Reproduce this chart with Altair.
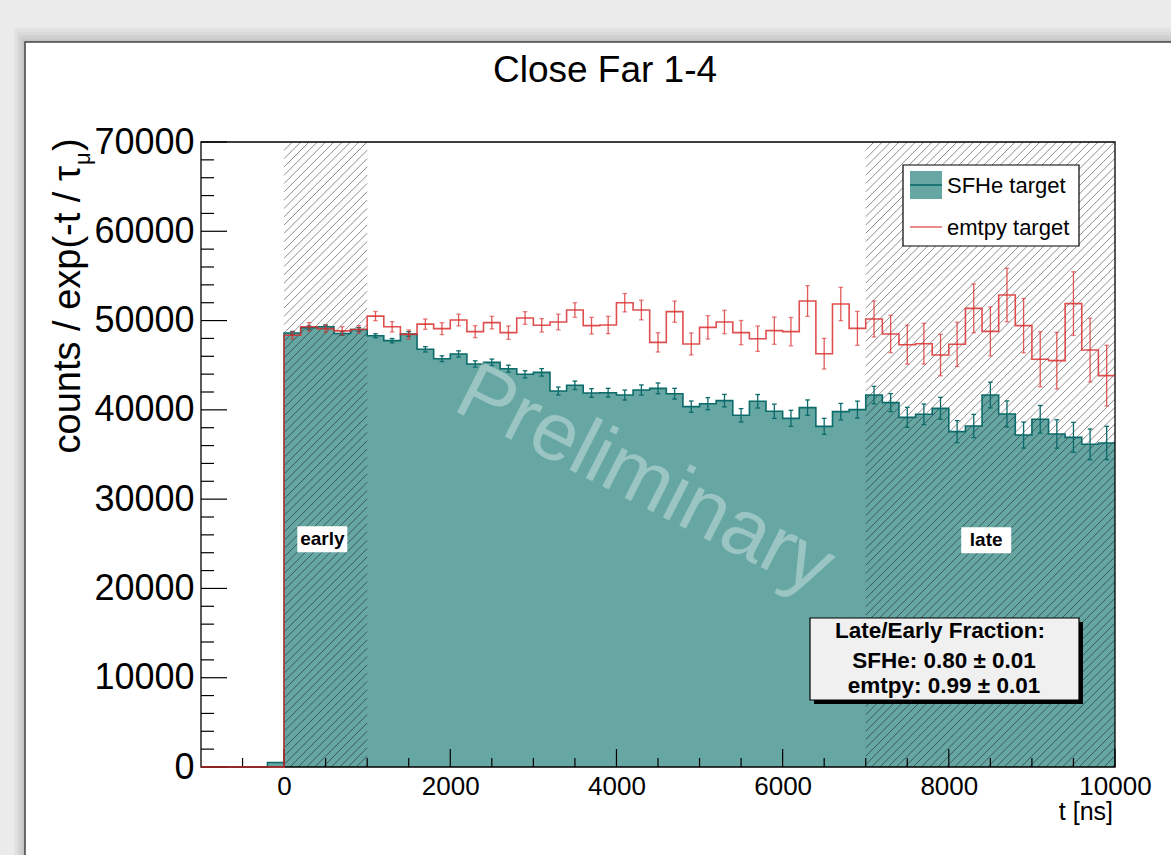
import altair as alt
import numpy as np
import pandas as pd

FONT = "Liberation Sans"

# ---- histogram data: 200 ns bins, lower edges from -1000 ns to 9800 ns ----
bin_lo = list(range(-1000, 10000, 200))
BIN_W = 200

sfhe_counts = [0, 0, 0, 0, 500,
               48600, 49200, 49300, 48550, 49000, 48300, 47750, 48500, 46780, 45730,
               46260, 45140, 45320, 44610, 43980, 44200, 42110, 42750, 41890, 41920,
               41660, 42220, 42410, 41810, 40360, 40690, 41030, 39390, 40960, 39840,
               39050, 40250, 38150, 39800, 40030, 41660, 40810, 39160, 39500, 40170,
               37560, 38190, 41660, 39540, 37180, 38940, 37300, 36920, 36140, 36290]
sfhe_err = [0, 0, 0, 0, 0,
            190, 200, 200, 200, 210, 220, 240, 260, 300, 320,
            350, 350, 370, 390, 400, 420, 440, 470, 480, 490,
            560, 570, 600, 600, 630, 680, 700, 750, 760, 800,
            900, 860, 900, 920, 950, 970, 1010, 1120, 1150, 1230,
            1230, 1300, 1440, 1460, 1460, 1550, 1590, 1680, 1720, 1870]

empty_counts = [0, 0, 0, 0, 0,
                48350, 49300, 49100, 48850, 49000, 50500, 49300, 48450, 49600, 49100,
                50060, 48760, 49770, 48650, 50290, 49470, 49840, 51180, 49430, 49500,
                52000, 51180, 47560, 51000, 47380, 49240, 49840, 48650, 47970, 48870,
                48760, 52190, 46290, 51860, 49130, 50180, 48500, 47300, 47410, 46140,
                47340, 51370, 48790, 52860, 49430, 45660, 45510, 51900, 46700, 43830]
empty_err = [0, 0, 0, 0, 0,
             410, 470, 410, 470, 430, 520, 580, 500, 580, 670,
             650, 670, 710, 750, 710, 750, 880, 820, 930, 970,
             1030, 1100, 1080, 1190, 1230, 1310, 1310, 1360, 1420, 1530,
             1590, 1720, 1720, 1870, 1900, 2020, 2090, 2180, 2280, 2330,
             2480, 2730, 2740, 2990, 3040, 3080, 3170, 3570, 3570, 3400]

early_window = [0, 1000]
late_window = [7000, 10000]

x_label_values = [0, 2000, 4000, 6000, 8000, 10000]
y_label_values = [0, 10000, 20000, 30000, 40000, 50000, 60000, 70000]
x_major_ticks = [0, 2000, 4000, 6000, 8000, 10000]
x_minor_ticks = [t for t in range(-500, 10000, 500) if t not in x_major_ticks]
y_major_ticks = y_label_values
y_minor_ticks = [t for t in range(2000, 70000, 2000) if t % 10000]

X_MIN, X_MAX = -1000, 10000
Y_MIN, Y_MAX = 0, 70000

# ---- layout ----
W, H = 914, 625
PAD = {"left": 201, "top": 142, "right": 56, "bottom": 88}

TEAL_FILL = "#66a6a3"
TEAL_LINE = "#0b6a6a"
RED = "#d93030"

xs = alt.Scale(domain=[X_MIN, X_MAX], nice=False, zero=False)
ys = alt.Scale(domain=[Y_MIN, Y_MAX], nice=False, zero=False)
x_axis = alt.Axis(values=x_label_values, format="d", labelFlush=False, ticks=False,
                  domain=False, grid=False, labelFontSize=26, labelPadding=6,
                  labelFont=FONT, labelColor="black", title=None, zindex=2)
y_axis = alt.Axis(values=y_label_values, format="d", ticks=False, domain=False,
                  grid=False, labelFontSize=36, labelPadding=7, labelFont=FONT,
                  labelColor="black", title=None, zindex=2)


def X(f):
    return alt.X(f"{f}:Q", scale=xs, axis=x_axis)


def Y(f):
    return alt.Y(f"{f}:Q", scale=ys, axis=y_axis)


one = pd.DataFrame({"k": [0]})


def px_rect(x, y, x2, y2, **kw):
    return alt.Chart(one).mark_rect(**kw).encode(
        x=alt.value(x), x2=alt.value(x2), y=alt.value(y), y2=alt.value(y2))


def px_rule(x, y, x2, y2, **kw):
    return alt.Chart(one).mark_rule(**kw).encode(
        x=alt.value(x), x2=alt.value(x2), y=alt.value(y), y2=alt.value(y2))


def px_text(x, y, text, **kw):
    opts = dict(font=FONT, color="black")
    opts.update(kw)
    return alt.Chart(one).mark_text(text=text, **opts).encode(
        x=alt.value(x), y=alt.value(y))


# ---- tables ----
hist = pd.DataFrame({
    "lo": bin_lo,
    "mid": [b + BIN_W / 2 for b in bin_lo],
    "sfhe": sfhe_counts, "sfhe_err": sfhe_err,
    "empty": empty_counts, "empty_err": empty_err,
})

steps = pd.DataFrame({
    "t": bin_lo + [X_MAX],
    "sfhe": sfhe_counts + [sfhe_counts[-1]],
    "empty": empty_counts + [empty_counts[-1]],
})
steps["zero"] = 0

CAP_NS = 28


def err_table(val, err):
    d = hist[hist[err] > 0].copy()
    d["lo_v"] = d[val] - d[err]
    d["hi_v"] = d[val] + d[err]
    d["c1"] = d["mid"] - CAP_NS
    d["c2"] = d["mid"] + CAP_NS
    return d


sfhe_e = err_table("sfhe", "sfhe_err")
empty_e = err_table("empty", "empty_err")

# diagonal hatching of the early and late windows (45 degrees on screen)
px_per_ns = W / (X_MAX - X_MIN)
px_per_cnt = H / (Y_MAX - Y_MIN)
slope = px_per_ns / px_per_cnt
step_ns = 8.3 / px_per_ns
span = Y_MAX / slope
hatch_rows = []
for a, b in (early_window, late_window):
    for x0 in np.arange(a - span, b, step_ns):
        s = max(a, x0)
        e = min(b, x0 + span)
        if e - s < 1e-6:
            continue
        hatch_rows.append({"x1": s, "x2": e, "y1": slope * (s - x0), "y2": slope * (e - x0)})
hatch = pd.DataFrame(hatch_rows)

# window labels
lab = pd.DataFrame({
    "name": ["early", "late"],
    "cx": [sum(early_window) / 2 - 40, sum(late_window) / 2 - 50],
    "cy": [25500, 25400],
})
lab["bx1"] = lab["cx"] - 25 / px_per_ns
lab["bx2"] = lab["cx"] + 25 / px_per_ns
lab["by1"] = lab["cy"] - 13 / px_per_cnt
lab["by2"] = lab["cy"] + 13 / px_per_cnt

ticks_x = pd.DataFrame({"t": x_major_ticks + x_minor_ticks,
                        "len": [18] * len(x_major_ticks) + [9] * len(x_minor_ticks)})
ticks_y = pd.DataFrame({"t": y_major_ticks + y_minor_ticks,
                        "len": [26] * len(y_major_ticks) + [13] * len(y_minor_ticks)})

# ---- canvas panel ----
layers = []
for sx, sy in [(14, 28), (17, 32), (19, 35), (21, 38), (23, 40)]:
    layers.append(px_rect(sx - PAD["left"], sy - PAD["top"], 1200 - PAD["left"], 900 - PAD["top"],
                          color="black", opacity=0.035))
layers.append(px_rect(25 - PAD["left"], 42 - PAD["top"], 1200 - PAD["left"], 900 - PAD["top"],
                      fill="white", stroke="#444444", strokeWidth=1.5))

# ---- SFHe histogram fill ----
layers.append(alt.Chart(steps).mark_area(interpolate="step-after", color=TEAL_FILL).encode(
    x=X("t"), y=Y("sfhe"), y2="zero:Q"))

# ---- hatching ----
layers.append(alt.Chart(hatch).mark_rule(color="black", opacity=0.5, strokeWidth=0.9).encode(
    x=X("x1"), x2="x2:Q", y=Y("y1"), y2="y2:Q"))

# ---- SFHe outline and error bars ----
layers.append(alt.Chart(steps).mark_line(interpolate="step-after", color=TEAL_LINE,
                                         strokeWidth=1.6).encode(x=X("t"), y=Y("sfhe")))
layers.append(alt.Chart(sfhe_e).mark_rule(color=TEAL_LINE, strokeWidth=1.3).encode(
    x=X("mid"), y=Y("lo_v"), y2="hi_v:Q"))
for f in ("lo_v", "hi_v"):
    layers.append(alt.Chart(sfhe_e).mark_rule(color=TEAL_LINE, strokeWidth=1.3).encode(
        x=X("c1"), x2="c2:Q", y=Y(f)))

# ---- inward ticks ----
for L in (18, 9):
    sub = ticks_x[ticks_x["len"] == L]
    layers.append(alt.Chart(sub).mark_rule(color="black", strokeWidth=1.2).encode(
        x=X("t"), y=alt.value(H), y2=alt.value(H - L)))
for L in (26, 13):
    sub = ticks_y[ticks_y["len"] == L]
    layers.append(alt.Chart(sub).mark_rule(color="black", strokeWidth=1.2).encode(
        y=Y("t"), x=alt.value(0), x2=alt.value(L)))

# ---- frame ----
layers.append(px_rect(0, 0, W, H, fillOpacity=0, stroke="black", strokeWidth=1.3))

# ---- empty-target histogram ----
layers.append(alt.Chart(steps).mark_line(interpolate="step-after", color=RED, strokeWidth=1.6,
                                         opacity=0.85).encode(x=X("t"), y=Y("empty")))
layers.append(alt.Chart(empty_e).mark_rule(color=RED, strokeWidth=1.3, opacity=0.8).encode(
    x=X("mid"), y=Y("lo_v"), y2="hi_v:Q"))
for f in ("lo_v", "hi_v"):
    layers.append(alt.Chart(empty_e).mark_rule(color=RED, strokeWidth=1.3, opacity=0.6).encode(
        x=X("c1"), x2="c2:Q", y=Y(f)))

# ---- watermark ----
wm = pd.DataFrame({"x": [4344], "y": [32140]})
layers.append(alt.Chart(wm).mark_text(text="Preliminary", font=FONT, fontSize=82, angle=27,
                                      color="white", opacity=0.35).encode(x=X("x"), y=Y("y")))

# ---- window labels ----
layers.append(alt.Chart(lab).mark_rect(color="white").encode(
    x=X("bx1"), x2="bx2:Q", y=Y("by1"), y2="by2:Q"))
layers.append(alt.Chart(lab).mark_text(font=FONT, fontSize=19, fontWeight="bold",
                                       color="black").encode(x=X("cx"), y=Y("cy"), text="name:N"))

# ---- legend ----
layers.append(px_rect(702, 23, 878, 104, fill="white", stroke="black", strokeWidth=1.2))
layers.append(px_rect(709, 29, 741, 57, fill=TEAL_FILL))
layers.append(px_rule(709, 43, 741, 43, color=TEAL_LINE, strokeWidth=1.6))
layers.append(px_text(746, 44, "SFHe target", fontSize=22, align="left", baseline="middle"))
layers.append(px_rule(709, 85, 741, 85, color=RED, strokeWidth=1.6, opacity=0.7))
layers.append(px_text(746, 86, "emtpy target", fontSize=22, align="left", baseline="middle"))

# ---- late/early fraction box ----
layers.append(px_rect(613, 480, 882, 562, fill="black"))
layers.append(px_rect(609, 476, 878, 558, fill="#f0f0f0", stroke="black", strokeWidth=1.2))
layers.append(px_text(739, 489, "Late/Early Fraction:", fontSize=22.5, fontWeight="bold",
                      baseline="middle"))
layers.append(px_text(743, 519, "SFHe: 0.80 ± 0.01", fontSize=22.5, fontWeight="bold",
                      baseline="middle"))
layers.append(px_text(743, 544, "emtpy: 0.99 ± 0.01", fontSize=22.5, fontWeight="bold",
                      baseline="middle"))

# ---- titles ----
layers.append(px_text(404, -71, "Close Far 1-4", fontSize=37, baseline="middle"))
layers.append(px_text(912, 670, "t [ns]", fontSize=25, align="right", baseline="middle"))
layers.append(px_text(-121, 24, "counts / exp(-t / τ", fontSize=38, angle=270, align="right",
                      baseline="alphabetic"))
layers.append(px_text(-111, 23, "μ", fontSize=22, angle=270, align="left", baseline="alphabetic"))
layers.append(px_text(-121, 9, ")", fontSize=38, angle=270, align="left", baseline="alphabetic"))

chart = alt.layer(*layers).properties(
    width=W, height=H, padding=PAD,
    autosize=alt.AutoSizeParams(type="none"),
    background="#ebebeb",
).configure_view(stroke="transparent")

chart.save("out.html", embed_options={"renderer": "svg", "actions": False})
